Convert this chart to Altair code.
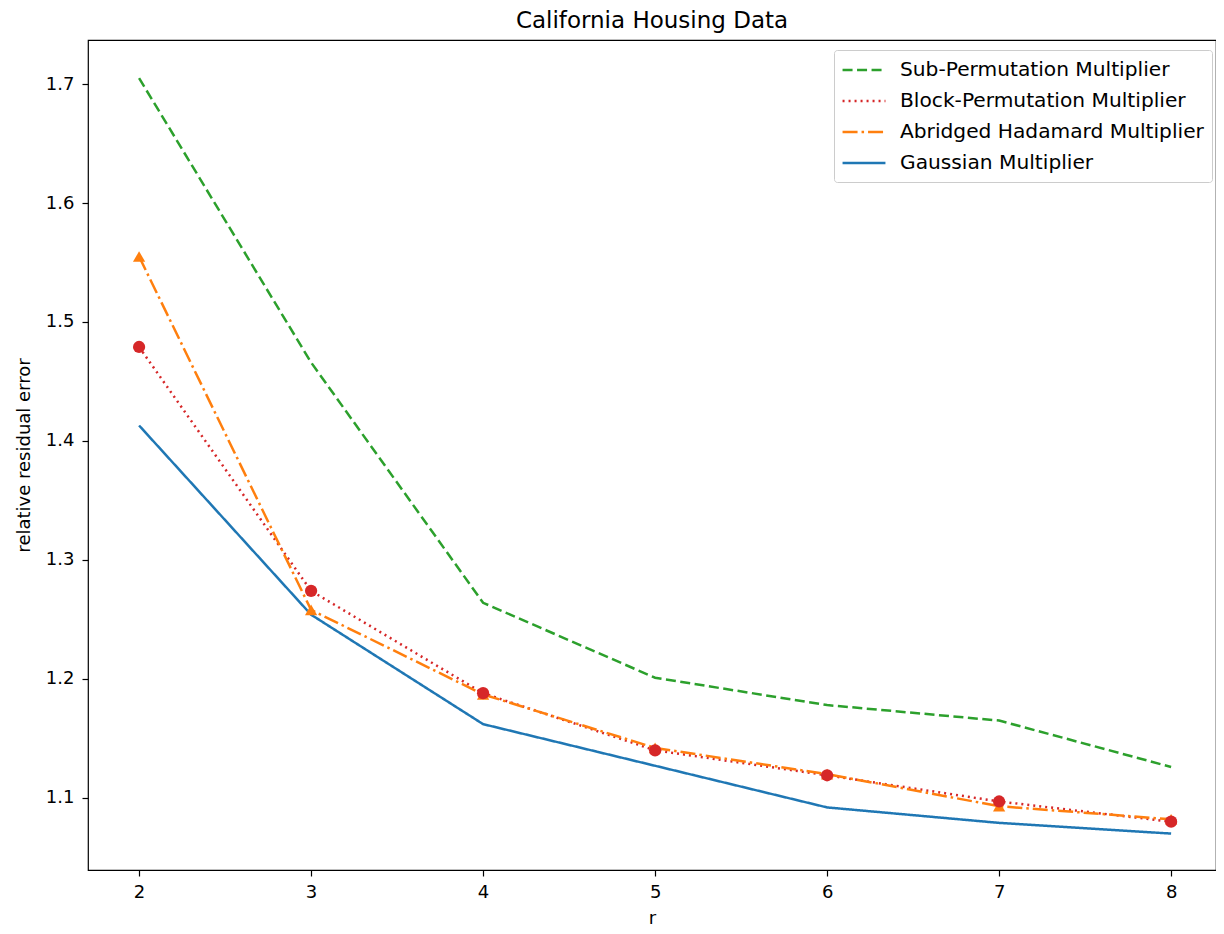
import altair as alt
import pandas as pd

r_values = [2, 3, 4, 5, 6, 7, 8]
sub_perm = [1.705, 1.466, 1.264, 1.201, 1.178, 1.165, 1.126]
block_perm = [1.479, 1.274, 1.188, 1.140, 1.119, 1.097, 1.080]
hadamard = [1.555, 1.258, 1.187, 1.142, 1.120, 1.093, 1.082]
gaussian = [1.413, 1.254, 1.162, 1.127, 1.092, 1.079, 1.070]
y_ticks = [1.1, 1.2, 1.3, 1.4, 1.5, 1.6, 1.7]

series_names = [
    "Sub-Permutation Multiplier",
    "Block-Permutation Multiplier",
    "Abridged Hadamard Multiplier",
    "Gaussian Multiplier",
]
series_colors = ["#2ca02c", "#d62728", "#ff7f0e", "#1f77b4"]
series_dashes = [[10, 4.5], [2, 4], [15, 4, 2.5, 4], [1, 0]]

rows = []
for name, vals in zip(series_names, [sub_perm, block_perm, hadamard, gaussian]):
    for r, v in zip(r_values, vals):
        rows.append({"r": r, "value": v, "series": name})
df = pd.DataFrame(rows)

FONT = "DejaVu Sans"

x_enc = alt.X(
    "r:Q",
    scale=alt.Scale(domain=[1.703, 8.261], nice=False, zero=False),
    axis=alt.Axis(
        title="r", values=r_values, format="d", grid=False, domain=False,
        tickColor="black", labelColor="black", titleColor="black",
        labelFontSize=18, titleFontSize=18, titleFontWeight="normal",
        labelFont=FONT, titleFont=FONT, tickSize=6, tickWidth=1.2,
        labelPadding=7, titlePadding=8,
    ),
)
y_enc = alt.Y(
    "value:Q",
    scale=alt.Scale(domain=[1.0394, 1.737], nice=False, zero=False),
    axis=alt.Axis(
        title="relative residual error", values=y_ticks,
        format=".1f", grid=False, domain=False,
        tickColor="black", labelColor="black", titleColor="black",
        labelFontSize=18, titleFontSize=18, titleFontWeight="normal",
        labelFont=FONT, titleFont=FONT, tickSize=6, tickWidth=1.2,
        labelPadding=8, titlePadding=12,
    ),
)

legend = alt.Legend(
    title=None, orient="none", legendX=746, legendY=10,
    strokeColor="#cccccc", fillColor="white", padding=8, cornerRadius=3,
    labelFont=FONT, labelFontSize=20.2, labelColor="black", labelOffset=24,
    symbolType="M-2,0L2,0", symbolSize=460, symbolStrokeWidth=2.5, rowPadding=8,
    symbolOffset=10, labelLimit=400,
)

lines = alt.Chart(df).mark_line(strokeWidth=2.5).encode(
    x=x_enc,
    y=y_enc,
    color=alt.Color("series:N", scale=alt.Scale(domain=series_names, range=series_colors), legend=legend),
    strokeDash=alt.StrokeDash("series:N", scale=alt.Scale(domain=series_names, range=series_dashes), legend=legend),
    detail="series:N",
)

tri = alt.Chart(df).transform_filter(
    alt.datum.series == "Abridged Hadamard Multiplier"
).mark_point(shape="triangle-up", filled=True, size=150, color="#ff7f0e", opacity=1).encode(
    x="r:Q", y="value:Q"
)

dots = alt.Chart(df).transform_filter(
    alt.datum.series == "Block-Permutation Multiplier"
).mark_point(shape="circle", filled=True, size=150, color="#d62728", opacity=1).encode(
    x="r:Q", y="value:Q"
)

chart = alt.layer(lines, tri, dots).properties(
    width=1128, height=830,
    title=alt.Title("California Housing Data", font=FONT, fontSize=23, fontWeight="normal", color="black", offset=7),
    autosize=alt.AutoSizeParams(type="none"),
    padding={"left": 80, "top": 32, "right": 0, "bottom": 56},
).configure_view(stroke="black", strokeWidth=1.2)

chart.save("out.html", embed_options={"renderer": "svg", "actions": False})
